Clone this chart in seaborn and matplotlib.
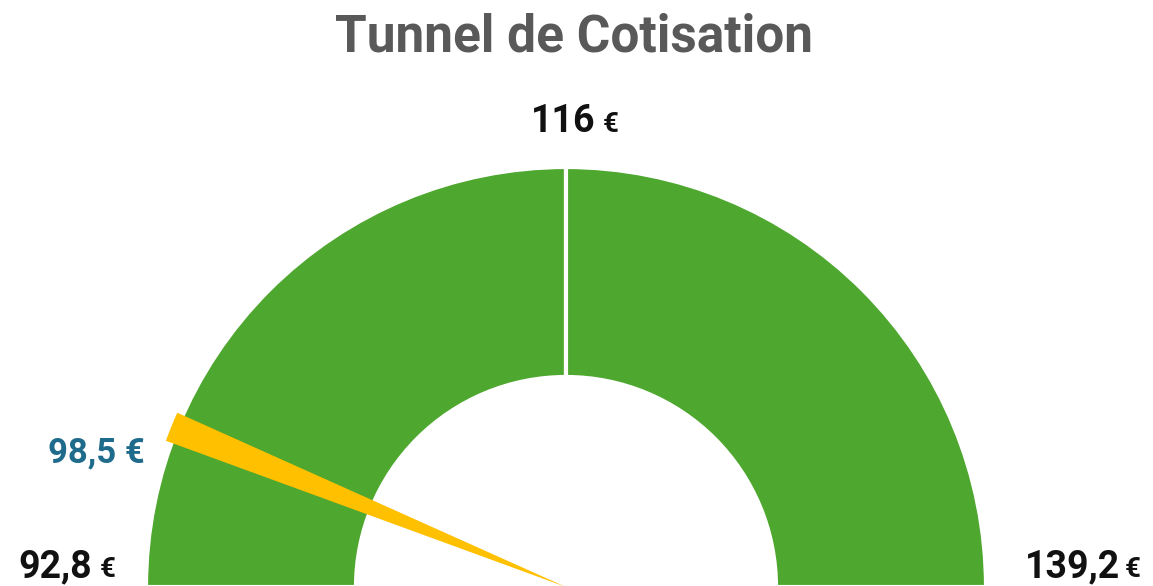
import matplotlib
matplotlib.use("Agg")
import matplotlib.pyplot as plt
import seaborn as sns

# Gauge content
title = "Tunnel de Cotisation"
bounds = [92.8, 116.0, 139.2]      # floor, target, ceiling (€)
current = 98.5                     # current contribution (€)
needle_span = 1.05                 # angular width of the needle, in €

sns.set_theme(style="white")
plt.rcParams["font.family"] = ["Roboto", "DejaVu Sans"]

green = "#4EA72E"
yellow = "#FFC000"
value_blue = "#1E6B8C"
title_grey = "#595959"

W, H = 1153, 586
fig = plt.figure(figsize=(W / 100, H / 100), dpi=100)
ax = fig.add_axes([0, 0, 1, 1])

cx, cy = 566, -1
r_out, ring = 420, 210

lo, mid, hi = bounds
full = hi - lo

# Upper half ring split at the target; lower half is a hidden slice
zones, _ = ax.pie(
    [mid - lo, hi - mid, full],
    colors=[green, green, "white"],
    startangle=180, counterclock=False,
    radius=r_out, center=(cx, cy),
    wedgeprops=dict(width=ring, edgecolor="white", linewidth=3),
)
zones[2].set_visible(False)

# Needle: thin slice positioned at the current value
needle, _ = ax.pie(
    [current - lo - needle_span / 2, needle_span, hi - current - needle_span / 2, full],
    colors=["none", yellow, "none", "none"],
    startangle=180, counterclock=False,
    radius=r_out + 6, center=(cx, cy),
    wedgeprops=dict(linewidth=0),
)
for i, w in enumerate(needle):
    if i != 1:
        w.set_visible(False)
    w.set_zorder(3)

ax.set_xlim(0, W)
ax.set_ylim(0, H)
ax.set_aspect("equal")
ax.axis("off")


def euro(v):
    return f"{v:g}".replace(".", ",")


# number right edge x, euro sign left x, baseline y (from top)
label_pos = [(92, 100, 577), (595, 603, 132), (1120, 1125, 577)]
for v, (xr, xe, yb) in zip(bounds, label_pos):
    ax.text(xr, H - yb, euro(v), ha="right", va="baseline",
            fontsize=27, fontweight="bold", color="#111111")
    ax.text(xe, H - yb, "€", ha="left", va="baseline",
            fontsize=20, fontweight="bold", color="#111111")

ax.text(145, H - 462, f"{euro(current)} €", ha="right", va="baseline",
        fontsize=25, fontweight="semibold", color=value_blue)

ax.text(574, H - 52, title, ha="center", va="baseline",
        fontsize=37, fontweight="bold", color=title_grey)

fig.savefig("out.png", dpi=100)
